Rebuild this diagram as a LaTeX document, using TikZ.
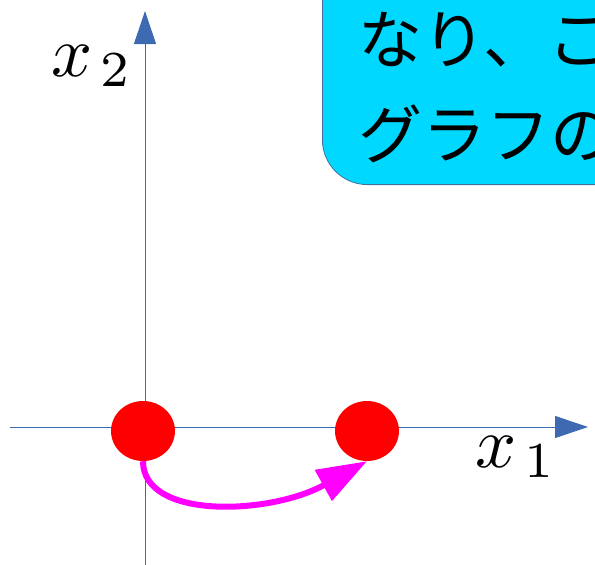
\documentclass[tikz,border=0pt]{standalone}
\usepackage{fontspec}
\newfontfamily\jafont{Noto Sans CJK JP}
\usepackage{graphicx}
\usepackage{xcolor}
\usepackage{tikz}
\usetikzlibrary{arrows.meta,positioning,shapes.geometric}

\definecolor{axisblue}{RGB}{62,106,178}
\definecolor{boxcyan}{RGB}{0,216,255}
\definecolor{boxline}{RGB}{65,113,156}
\definecolor{movemag}{RGB}{255,0,255}

% large axis name
\newcommand{\axname}[1]{\scalebox{7.2}{$x_{\kern1.2pt #1}$}}

\tikzset{
  axis/.style={axisblue, line width=1pt, -{Triangle[length=33pt,width=22pt]}},
  dot/.style={ellipse, fill=red, draw=none, minimum width=64pt, minimum height=60pt, inner sep=0pt},
  move/.style={movemag, line width=6pt, -{Triangle[length=50pt,width=34pt]}},
  axlabel/.style={inner sep=0pt},
  msgbox/.style={fill=boxcyan, draw=boxline, line width=0.8pt, rounded corners=45pt, inner sep=0pt},
  msgtext/.style={inner sep=0pt, font=\jafont\fontsize{64}{94}\selectfont}
}

\begin{document}
\begin{tikzpicture}[x=1pt, y=-1pt]
  \useasboundingbox (0,0) rectangle (595,565);
  \clip (0,0) rectangle (595,565);
  % axes
  \coordinate (xstart) at (10,427);
  \coordinate (xend) at (588,427);
  \coordinate (ystart) at (145,566);
  \coordinate (yend) at (145,11);
  \draw[axis] (xstart) -- (xend);
  \draw[axis] (ystart) -- (yend);
  \node[axlabel, anchor=base west] (lx2) at (51,76) {\axname{2}};
  \node[axlabel, anchor=base west] (lx1) at (475,467) {\axname{1}};
  % message box
  \node[msgbox, anchor=south west, minimum width=340pt, minimum height=240pt] (msg) at (322,185) {};
  \node[msgtext, anchor=base west] (line1) at (358,63) {なり、こ};
  \node[msgtext, anchor=base west] (line2) at (358,158) {グラフの};
  % points and move
  \node[dot] (p1) at (143,431) {};
  \node[dot] (p2) at (367,431) {};
  \draw[move] (p1.south) .. controls (143,520) and (270,515) .. (p2.south);
\end{tikzpicture}
\end{document}
